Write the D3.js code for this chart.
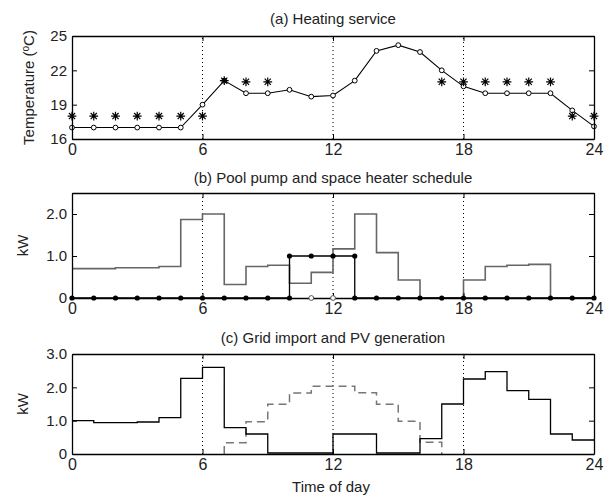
<!DOCTYPE html>
<html>
<head>
<meta charset="utf-8">
<script src="https://cdn.jsdelivr.net/npm/d3@7"></script>
<style>
  body { margin: 0; background: #fff; }
  text { font-family: "Liberation Sans", Arial, sans-serif; fill: #222; }
</style>
</head>
<body>
<div id="chart"></div>
<script>
var svgWidth = 608;
var svgHeight = 498;

// (a) heating service
var tempHours = [0,1,2,3,4,5,6,7,8,9,10,11,12,13,14,15,16,17,18,19,20,21,22,23,24];
var tempActual = [17,17,17,17,17,17,19,21.1,20,20,20.3,19.7,19.8,21.1,23.7,24.2,23.6,22,20.6,20,20,20,20,18.5,17.1];
var starHours = [0,1,2,3,4,5,6,7,8,9,17,18,19,20,21,22,23,24];
var tempPref = [18,18,18,18,18,18,18,21.1,21,21,21,21,21,21,21,21,18,18];

// (b) pool pump and space heater, hourly kW (hour 0..23)
var heaterKW = [0.70,0.70,0.72,0.72,0.75,1.87,2.0,0.32,0.75,0.78,0.35,0.61,1.17,2.0,1.08,0.43,0,0,0.43,0.75,0.78,0.80,0,0];
var pumpHours = [0,1,2,3,4,5,6,7,8,9,10,10,11,12,13,13,14,15,16,17,18,19,20,21,22,23,24];
var pumpKW = [0,0,0,0,0,0,0,0,0,0,0,1,1,1,1,0,0,0,0,0,0,0,0,0,0,0,0];
var pumpOffHours = [11,12];

// (c) grid import and PV generation, hourly kW (hour 0..23)
var gridKW = [1.0,0.94,0.94,0.96,1.09,2.27,2.6,0.79,0.6,0.03,0.03,0.03,0.6,0.6,0.03,0.03,0.46,1.5,2.25,2.47,1.9,1.64,0.6,0.42];
var pvKW = [0,0,0,0,0,0,0,0.34,0.97,1.49,1.83,2.03,2.03,1.84,1.49,0.98,0.35,0,0,0,0,0,0,0];

var xTicks = [0,6,12,18,24];
var gridHours = [6,12,18];

var svg = d3.select("#chart")
  .append("svg")
  .attr("width", svgWidth)
  .attr("height", svgHeight);

var xScale = d3.scaleLinear().domain([0, 24]).range([72, 594]);

function drawFrame(yScale, title, titleY, ylabel, labelX) {
  var g = svg.append("g");
  var y0 = yScale.range()[0], y1 = yScale.range()[1];

  // dotted grid at 6, 12, 18
  g.selectAll(".vgrid")
    .data(gridHours)
    .enter()
    .append("line")
    .attr("x1", d => xScale(d)).attr("x2", d => xScale(d))
    .attr("y1", y0).attr("y2", y1)
    .attr("stroke", "#000")
    .attr("stroke-width", 1)
    .attr("stroke-dasharray", "1,3");

  g.append("text")
    .attr("x", 333)
    .attr("y", titleY)
    .attr("text-anchor", "middle")
    .style("font-size", "15px")
    .text(title);

  var lab = g.append("text")
    .attr("transform", `translate(${labelX}, ${(y0 + y1) / 2}) rotate(-90)`)
    .attr("text-anchor", "middle")
    .style("font-size", "15px");
  if (ylabel == "temp") {
    lab.append("tspan").text("Temperature (");
    lab.append("tspan").attr("dy", -5).style("font-size", "10px").text("o");
    lab.append("tspan").attr("dy", 5).text("C)");
  } else {
    lab.text(ylabel);
  }
  return g;
}

function drawAxes(g, yScale, yTicks, fmt) {
  var y0 = yScale.range()[0];
  var y1 = yScale.range()[1];

  var leftAxis = d3.axisLeft(yScale).tickValues(yTicks).tickFormat(fmt).tickSizeInner(-5).tickSizeOuter(0).tickPadding(5);
  var rightAxis = d3.axisRight(yScale).tickValues(yTicks).tickFormat("").tickSizeInner(-5).tickSizeOuter(0);
  var bottomAxis = d3.axisBottom(xScale).tickValues(xTicks).tickSizeInner(-5).tickSizeOuter(0).tickPadding(6);
  var topAxis = d3.axisTop(xScale).tickValues(xTicks).tickFormat("").tickSizeInner(-5).tickSizeOuter(0);

  var la = g.append("g").attr("transform", `translate(${xScale(0)}, 0)`).call(leftAxis);
  g.append("g").attr("transform", `translate(${xScale(24)}, 0)`).call(rightAxis);
  var ba = g.append("g").attr("transform", `translate(0, ${y0})`).call(bottomAxis);
  g.append("g").attr("transform", `translate(0, ${y1})`).call(topAxis);

  g.selectAll(".domain").attr("stroke", "#000").attr("stroke-width", 1.3);
  g.selectAll(".tick line").attr("stroke", "#000");
  la.selectAll("text").style("font-size", "15px").style("font-family", "Liberation Sans, Arial, sans-serif").attr("fill", "#222");
  ba.selectAll("text").style("font-size", "16px").style("font-family", "Liberation Sans, Arial, sans-serif").attr("fill", "#222").attr("dy", "0.6em");
}

function stairs(values) {
  var pts = values.map((v, i) => [i, v]);
  pts.push([24, values[values.length - 1]]);
  return pts;
}

// only the part of a stairs series that leaves zero
function nonZeroStairs(values) {
  var first = values.findIndex(v => v > 0);
  var last = values.length - 1;
  while (last > 0 && values[last] == 0) last--;
  var pts = [[first, 0]];
  for (var i = first; i <= last; i++) pts.push([i, values[i]]);
  pts.push([last + 1, values[last]]);
  pts.push([last + 1, 0]);
  return pts;
}

// ---------------- panel (a)
var yA = d3.scaleLinear().domain([16, 25]).range([139, 36]);
var gA = drawFrame(yA, "(a) Heating service", 24, "temp", 34);

var lineA = d3.line().x(d => xScale(d[0])).y(d => yA(d[1]));
gA.append("path")
  .attr("d", lineA(tempHours.map((h, i) => [h, tempActual[i]])))
  .attr("fill", "none")
  .attr("stroke", "#000")
  .attr("stroke-width", 1.1);

gA.selectAll(".ocirc")
  .data(tempHours)
  .enter()
  .append("circle")
  .attr("cx", d => xScale(d))
  .attr("cy", (d, i) => yA(tempActual[i]))
  .attr("r", 2.4)
  .attr("fill", "#fff")
  .attr("stroke", "#000")
  .attr("stroke-width", 1);

var s = 4.4;
gA.selectAll(".star")
  .data(starHours)
  .enter()
  .append("path")
  .attr("transform", (d, i) => `translate(${xScale(d)}, ${yA(tempPref[i])})`)
  .attr("d", `M${-s},0L${s},0M0,${-s}L0,${s}M${-s*0.7},${-s*0.7}L${s*0.7},${s*0.7}M${-s*0.7},${s*0.7}L${s*0.7},${-s*0.7}`)
  .attr("stroke", "#000")
  .attr("stroke-width", 1.2)
  .attr("fill", "none");

drawAxes(gA, yA, [16,19,22,25], d3.format("d"));

// ---------------- panel (b)
var yB = d3.scaleLinear().domain([0, 2.5]).range([298, 193]);
var fmtKW = d => d == 0 ? "0" : d3.format(".1f")(d);
var gB = drawFrame(yB, "(b) Pool pump and space heater schedule", 183, "kW", 28);

var stepB = d3.line().curve(d3.curveStepAfter).x(d => xScale(d[0])).y(d => yB(d[1]));
gB.append("path")
  .attr("d", stepB(stairs(heaterKW)))
  .attr("fill", "none")
  .attr("stroke", "#666")
  .attr("stroke-width", 1.6);

var lineB = d3.line().x(d => xScale(d[0])).y(d => yB(d[1]));
gB.append("path")
  .attr("d", lineB(pumpHours.map((h, i) => [h, pumpKW[i]])))
  .attr("fill", "none")
  .attr("stroke", "#000")
  .attr("stroke-width", 1.3);

drawAxes(gB, yB, [0,1,2], fmtKW);

var pumpPts = pumpHours.map((h, i) => [h, pumpKW[i]]).filter(p => !(p[1] == 0 && pumpOffHours.indexOf(p[0]) >= 0));
gB.selectAll(".pdot")
  .data(pumpPts)
  .enter()
  .append("circle")
  .attr("cx", d => xScale(d[0]))
  .attr("cy", d => yB(d[1]))
  .attr("r", 2.6)
  .attr("fill", "#000");

gB.selectAll(".popen")
  .data(pumpOffHours)
  .enter()
  .append("circle")
  .attr("cx", d => xScale(d))
  .attr("cy", yB(0))
  .attr("r", 2.4)
  .attr("fill", "#fff")
  .attr("stroke", "#555")
  .attr("stroke-width", 1);

// ---------------- panel (c)
var yC = d3.scaleLinear().domain([0, 3]).range([454, 354]);
var gC = drawFrame(yC, "(c) Grid import and PV generation", 343, "kW", 28);

var stepC = d3.line().curve(d3.curveStepAfter).x(d => xScale(d[0])).y(d => yC(d[1]));
var plainC = d3.line().x(d => xScale(d[0])).y(d => yC(d[1]));
gC.append("path")
  .attr("d", stepC(nonZeroStairs(pvKW)))
  .attr("fill", "none")
  .attr("stroke", "#777")
  .attr("stroke-width", 1.5)
  .attr("stroke-dasharray", "8,5");

gC.append("path")
  .attr("d", stepC(stairs(gridKW)))
  .attr("fill", "none")
  .attr("stroke", "#000")
  .attr("stroke-width", 1.3);

drawAxes(gC, yC, [0,1,2,3], fmtKW);

svg.append("text")
  .attr("x", 331)
  .attr("y", 492)
  .attr("text-anchor", "middle")
  .style("font-size", "15px")
  .text("Time of day");
</script>
</body>
</html>
